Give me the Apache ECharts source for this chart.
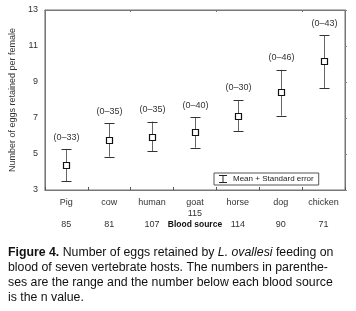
<!DOCTYPE html>
<html>
<head>
<meta charset="utf-8">
<script src="https://cdn.jsdelivr.net/npm/echarts@6/dist/echarts.min.js"></script>
<style>
html,body{margin:0;padding:0;background:#fff;}
#c{width:356px;height:311px;}
</style>
</head>
<body>
<div id="c"></div>
<script>
const categories = ['Pig', 'cow', 'human', 'goat', 'horse', 'dog', 'chicken'];
const nValues = [85, 81, 107, 115, 114, 90, 71];
const means = [4.4, 5.78, 5.96, 6.2, 7.11, 8.44, 10.15];
const upper = [5.26, 6.7, 6.8, 7.04, 8.0, 9.68, 11.6];
const lower = [3.5, 4.85, 5.15, 5.35, 6.26, 7.13, 8.65];
const ranges = ['(0\u201333)', '(0\u201335)', '(0\u201335)', '(0\u201340)', '(0\u201330)', '(0\u201346)', '(0\u201343)'];
const yTicks = [3, 5, 7, 9, 11, 13];

const FONT = '"Liberation Sans", Arial, sans-serif';
const chart = echarts.init(document.getElementById('c'), null, {renderer: 'canvas'});

const data = categories.map((c, i) => [i, means[i], upper[i], lower[i], ranges[i]]);

chart.setOption({
  animation: false,
  textStyle: {fontFamily: FONT},
  grid: {left: 38, right: 11, top: 10, bottom: 121, show: true, borderColor: '#777', borderWidth: 1, backgroundColor: 'transparent'},
  legend: {
    data: [{name: 'Mean + Standard error', icon: 'path://M0,0H10V1.2H5.6V8.8H10V10H0V8.8H4.4V1.2H0Z'}],
    left: 214, top: 173, itemWidth: 10, itemHeight: 8, itemGap: 4,
    padding: [2, 5, 2, 5],
    borderColor: '#555', borderWidth: 1, borderRadius: 0,
    backgroundColor: '#fff',
    textStyle: {fontSize: 8, color: '#222', fontFamily: FONT},
    itemStyle: {color: '#222'}
  },
  title: {
    left: 8, top: 245, padding: 0,
    text: '{b|Figure 4.} Number of eggs retained by {i|L. ovallesi} feeding on\nblood of seven vertebrate hosts. The numbers in parenthe-\nses are the range and the number below each blood source\nis the n value.',
    textStyle: {
      fontSize: 12.3, lineHeight: 15, fontWeight: 'normal', color: '#111', fontFamily: FONT,
      rich: {
        b: {fontSize: 12.3, fontWeight: 'bold', color: '#111', fontFamily: FONT, lineHeight: 15},
        i: {fontSize: 12.3, fontStyle: 'italic', color: '#111', fontFamily: FONT, lineHeight: 15}
      }
    }
  },
  xAxis: [{
    type: 'category',
    data: categories,
    boundaryGap: true,
    axisLine: {lineStyle: {color: '#777', width: 1}},
    axisTick: {show: true, inside: true, length: 3, lineStyle: {color: '#555'}},
    splitLine: {show: false},
    axisLabel: {
      margin: 7, interval: 0, color: '#333', fontSize: 9, lineHeight: 11,
      formatter: function (v, i) {
        if (v === 'goat') return '{a|' + v + '}\n{a|' + nValues[i] + '}\n{bs|Blood source}';
        return '{a|' + v + '}\n{a| }\n{a|' + nValues[i] + '}';
      },
      rich: {
        a: {fontSize: 9, color: '#333', lineHeight: 11, fontFamily: FONT},
        bs: {fontSize: 8.5, fontWeight: 'bold', color: '#111', lineHeight: 11, fontFamily: FONT}
      }
    }
  }, {
    type: 'category',
    position: 'top',
    data: categories,
    boundaryGap: true,
    axisLine: {lineStyle: {color: '#777', width: 1}},
    axisTick: {show: true, inside: true, length: 2, lineStyle: {color: '#777'}},
    axisLabel: {show: false},
    splitLine: {show: false}
  }],
  yAxis: [{
    type: 'value',
    min: 3, max: 13, interval: 2,
    name: 'Number of eggs retained per female',
    nameLocation: 'middle', nameGap: 20,
    nameTextStyle: {fontSize: 9, color: '#333', fontFamily: FONT},
    axisLine: {show: true, lineStyle: {color: '#777'}},
    axisTick: {show: false},
    splitLine: {show: false},
    axisLabel: {color: '#333', fontSize: 9, margin: 7, formatter: v => yTicks.includes(v) ? String(v) : ''}
  }, {
    type: 'value',
    position: 'right',
    min: 3, max: 13, interval: 2,
    axisLine: {show: true, lineStyle: {color: '#777'}},
    axisTick: {show: true, length: 2, lineStyle: {color: '#888'}},
    axisLabel: {show: false},
    splitLine: {show: false}
  }],
  series: [{
    name: 'Mean + Standard error',
    type: 'custom',
    data: data,
    itemStyle: {color: '#222'},
    renderItem: function (params, api) {
      const idx = api.value(0);
      const pm = api.coord([idx, api.value(1)]);
      const pu = api.coord([idx, api.value(2)]);
      const pl = api.coord([idx, api.value(3)]);
      const hw = 5, sq = 6;
      const x = Math.round(pm[0]) + 0.5;
      const ln = {stroke: '#333', lineWidth: 1};
      return {
        type: 'group',
        children: [
          {type: 'line', shape: {x1: x, y1: pu[1], x2: x, y2: pl[1]}, style: {stroke: '#666', lineWidth: 1}},
          {type: 'line', shape: {x1: x - hw, y1: Math.round(pu[1]) + 0.5, x2: x + hw, y2: Math.round(pu[1]) + 0.5}, style: ln},
          {type: 'line', shape: {x1: x - hw, y1: Math.round(pl[1]) + 0.5, x2: x + hw, y2: Math.round(pl[1]) + 0.5}, style: ln},
          {type: 'rect', shape: {x: x - sq / 2, y: Math.round(pm[1]) - sq / 2 + 0.5, width: sq, height: sq}, style: {fill: '#fff', stroke: '#111', lineWidth: 1.2}},
          {type: 'text', x: x, y: pu[1] - 12, style: {text: api.value(4), fill: '#333', font: '9px ' + FONT, textAlign: 'center', textVerticalAlign: 'middle'}}
        ]
      };
    }
  }]
});
</script>
</body>
</html>
